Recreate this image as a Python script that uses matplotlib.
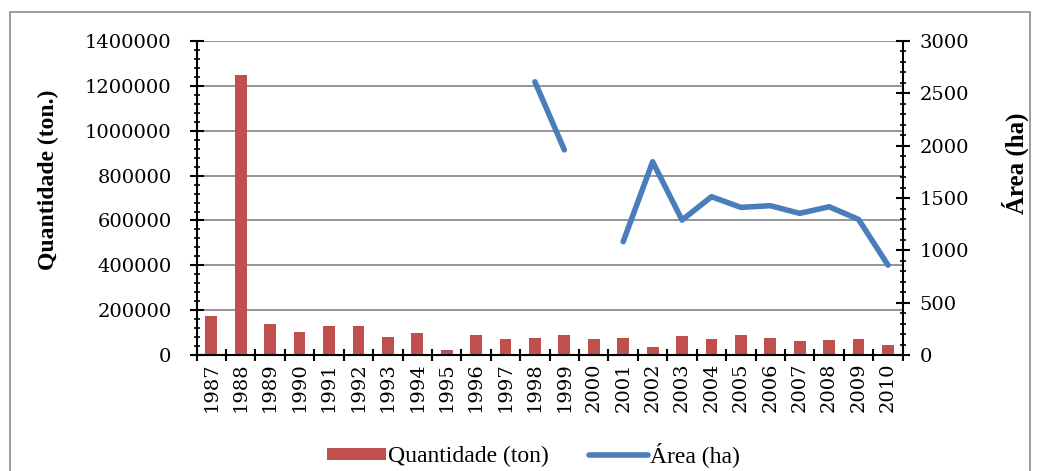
import numpy as np
import matplotlib
matplotlib.use("Agg")
from matplotlib import pyplot as plt
from matplotlib.ticker import MultipleLocator, FixedLocator, FormatStrFormatter
from matplotlib.patches import Rectangle

plt.rcParams['font.family'] = ['Liberation Serif', 'DejaVu Serif']
numeros = ['DejaVu Serif']

anos = [str(a) for a in range(1987, 2011)]
quantidade = [175000, 1248000, 138000, 103000, 129000, 132000, 82000, 99000,
              25000, 88000, 71000, 77000, 89000, 71000, 76000, 37000,
              85000, 74000, 91000, 76000, 62000, 67000, 71000, 43000]
area = [np.nan] * 11 + [2610, 1960, np.nan, 1083, 1847, 1290, 1513, 1411,
                        1427, 1354, 1417, 1296, 860]

fig = plt.figure(figsize=(10.4, 4.71), dpi=100)
fig.patches.append(Rectangle((10/1040, -0.05), 1020/1040, 1 - 12/471 + 0.05,
                             transform=fig.transFigure, fill=False,
                             edgecolor='#8c8c8c', linewidth=1.2))

ax = fig.add_axes([0.189, 0.246, 0.679, 0.667])
x = np.arange(len(anos))
barras = ax.bar(x, quantidade, width=0.4, color='#C0504D', label='Quantidade (ton)', zorder=2)
ax.set_ylim(0, 1400000)
ax.set_xlim(-0.5, len(anos) - 0.5)
ax.yaxis.set_major_locator(MultipleLocator(200000))
ax.yaxis.set_minor_locator(MultipleLocator(40000))
ax.yaxis.set_major_formatter(FormatStrFormatter('%d'))
ax.grid(axis='y', color='#8c8c8c', linewidth=1.3, zorder=0)
ax.set_xticks(x)
ax.set_xticklabels(anos, rotation=90, fontsize=14, family=numeros)
ax.xaxis.set_minor_locator(FixedLocator(np.arange(-0.5, len(anos), 1)))
ax.tick_params(axis='x', which='major', length=0, pad=5)
ax.tick_params(axis='x', which='minor', length=9, width=1.5, direction='inout')
ax.tick_params(axis='y', which='major', length=10, width=1.5, direction='inout', labelsize=14, pad=13)
ax.tick_params(axis='y', which='minor', length=5, width=1.2, direction='inout')
for t in ax.get_yticklabels():
    t.set_family(numeros)
ax.set_ylabel('Quantidade (ton.)', fontsize=17, fontweight='bold')
ax.yaxis.set_label_coords(-0.195, 0.557)
ax.spines['top'].set_visible(False)
ax.spines['left'].set_linewidth(1.5)
ax.spines['bottom'].set_linewidth(1.5)
ax.spines['right'].set_visible(False)

ax2 = ax.twinx()
linha, = ax2.plot(x, area, color='#4A7EBB', linewidth=4, solid_capstyle='round',
                  label='Área (ha)')
ax2.set_ylim(0, 3000)
ax2.yaxis.set_major_locator(MultipleLocator(500))
ax2.yaxis.set_minor_locator(MultipleLocator(100))
ax2.tick_params(axis='y', which='major', length=10, width=1.5, direction='inout', labelsize=14, pad=7)
ax2.tick_params(axis='y', which='minor', length=5, width=1.2, direction='inout')
for t in ax2.get_yticklabels():
    t.set_family(numeros)
ax2.set_ylabel('Área (ha)', fontsize=18, fontweight='bold', rotation=90)
ax2.yaxis.set_label_coords(1.14, 0.61)
ax2.spines['top'].set_visible(False)
ax2.spines['left'].set_visible(False)
ax2.spines['bottom'].set_visible(False)
ax2.spines['right'].set_linewidth(1.5)

fig.legend([barras, linha], ['Quantidade (ton)', 'Área (ha)'], loc='center',
           bbox_to_anchor=(0.513, 0.034), ncol=2, frameon=False, fontsize=17,
           handlelength=2.5, handleheight=0.45, handletextpad=0.1, columnspacing=1.7)

fig.savefig('out.png', dpi=100)
